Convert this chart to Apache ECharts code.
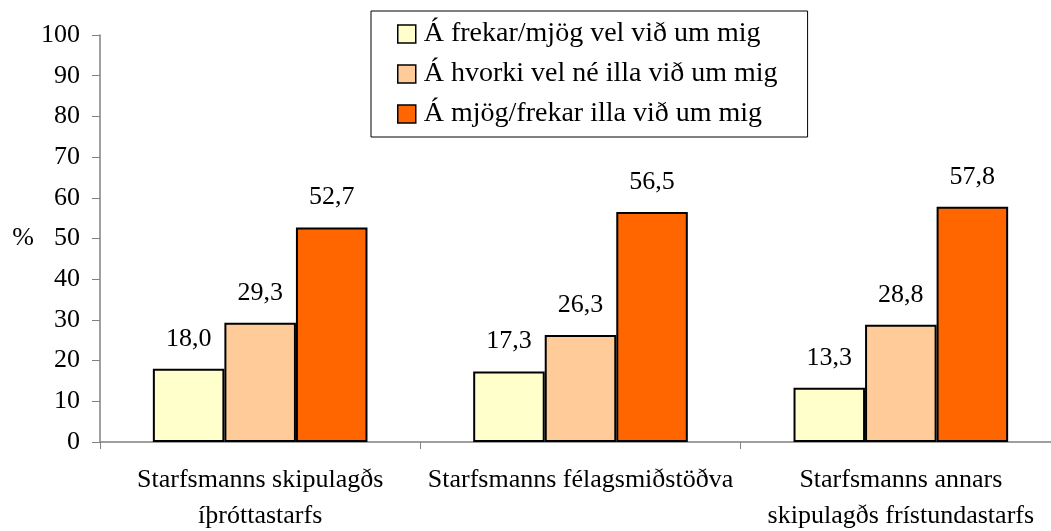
<!DOCTYPE html>
<html>
<head>
<meta charset="utf-8">
<script src="https://cdn.jsdelivr.net/npm/echarts@6/dist/echarts.min.js"></script>
<style>
  html, body { margin: 0; padding: 0; background: #fff; }
  #chart { width: 1051px; height: 531px; }
</style>
</head>
<body>
<div id="chart"></div>
<script>
var categories = ['Starfsmanns skipulagðs\níþróttastarfs', 'Starfsmanns félagsmiðstöðva', 'Starfsmanns annars\nskipulagðs frístundastarfs'];
var seriesNames = ['Á frekar/mjög vel við um mig', 'Á hvorki vel né illa við um mig', 'Á mjög/frekar illa við um mig'];
var vel = [18.0, 17.3, 13.3];
var hvorki = [29.3, 26.3, 28.8];
var illa = [52.7, 56.5, 57.8];
var colors = ['#FFFFCC', '#FFCC99', '#FF6600'];

var font = 'Liberation Serif, Times New Roman, serif';

var myChart = echarts.init(document.getElementById('chart'));

function bar(name, data, color) {
    return {
        name: name,
        type: 'bar',
        data: data,
        barGap: '0%',
        barCategoryGap: '33%',
        itemStyle: { color: color, borderColor: '#000', borderWidth: 2 },
        label: {
            show: true,
            position: 'top',
            distance: 17,
            color: '#000',
            fontFamily: font,
            fontSize: 26,
            formatter: function (p) { return p.value.toFixed(1).replace('.', ','); }
        }
    };
}

var option = {
    animation: false,
    textStyle: { fontFamily: font },
    legend: {
        orient: 'vertical',
        left: 371,
        top: 11,
        padding: [9, 30, 9, 26],
        itemGap: 12,
        itemWidth: 18,
        itemHeight: 18,
        borderColor: '#000',
        borderWidth: 1,
        textStyle: { fontFamily: font, fontSize: 28, lineHeight: 28, color: '#000', padding: [0, 0, 0, 3] },
        data: seriesNames.map(function (n) {
            return { name: n, icon: 'rect', itemStyle: { borderColor: '#000', borderWidth: 1.5 } };
        })
    },
    grid: {
        left: 100,
        top: 35,
        right: -10,
        height: 407,
        outerBoundsMode: 'none'
    },
    xAxis: {
        type: 'category',
        data: categories,
        axisLine: { lineStyle: { color: '#808080', width: 1.5 } },
        axisTick: { show: true, length: 7, inside: false, lineStyle: { color: '#808080' } },
        axisLabel: { color: '#000', fontFamily: font, fontSize: 26, margin: 20, lineHeight: 36, interval: 0 }
    },
    yAxis: {
        type: 'value',
        min: 0,
        max: 100,
        interval: 10,
        name: '%',
        nameLocation: 'middle',
        nameRotate: 0,
        nameGap: 66,
        nameTextStyle: { color: '#000', fontFamily: font, fontSize: 26 },
        splitLine: { show: false },
        axisLine: { show: true, lineStyle: { color: '#808080', width: 1.5 } },
        axisTick: { show: true, length: 8, lineStyle: { color: '#808080' } },
        axisLabel: { color: '#000', fontFamily: font, fontSize: 26, margin: 20 }
    },
    series: [
        bar(seriesNames[0], vel, colors[0]),
        bar(seriesNames[1], hvorki, colors[1]),
        bar(seriesNames[2], illa, colors[2])
    ]
};

myChart.setOption(option);
</script>
</body>
</html>
